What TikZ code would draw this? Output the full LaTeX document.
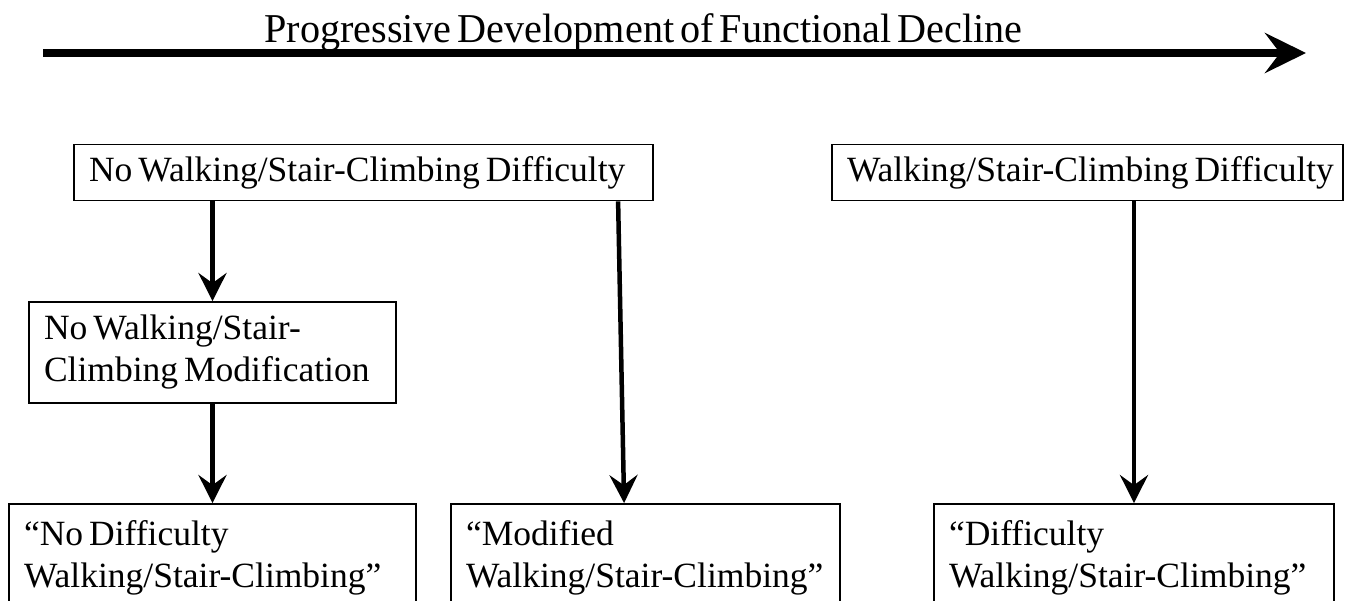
\documentclass[tikz,border=0pt]{standalone}
\usepackage{fontspec}
\setmainfont{Liberation Serif}
\newfontfamily\boxfont{Liberation Serif}
\newfontfamily\titlefont[FakeStretch=0.98,WordSpace=0.6]{Liberation Serif}
\newskip\boxwordskip
\boxwordskip=6pt plus 2pt minus 1pt
\usetikzlibrary{arrows.meta}
\begin{document}
\begin{tikzpicture}[x=1pt,y=-1pt,
  box/.style={draw,line width=1.8pt,inner xsep=15pt,inner ysep=0pt,align=left,
    font=\boxfont\fontsize{35.5}{42}\selectfont,
    execute at begin node={\spaceskip=\boxwordskip}},
  conn/.style={line width=4.5pt,-{Stealth[length=28pt,width=28pt,inset=10pt]}},
  bigarrow/.style={line width=8pt,-{Stealth[length=41pt,width=40pt,inset=15pt]}}
]
\useasboundingbox (0,0) rectangle (1345,601);
\clip (0,0) rectangle (1345,601);
\node[font=\titlefont\fontsize{41}{48}\selectfont,anchor=base,inner sep=0pt] (title) at (643.5,43) {Progressive Development of Functional Decline};
\coordinate (ls) at (43,53);
\coordinate (le) at (1306,53);
\draw[bigarrow] (ls) -- (le);

\node[box,minimum width=579pt,minimum height=56pt,text width=549pt] (A) at (363.5,172.5) {\mbox{No Walking/Stair-Climbing Difficulty}};
\node[box,minimum width=511pt,minimum height=56pt,text width=481pt] (B) at (1087.5,172.5) {\mbox{Walking/Stair-Climbing Difficulty}};
\node[box,minimum width=367pt,minimum height=101pt,text width=337pt] (C) at (212.5,352.5) {No Walking/Stair-\\Climbing Modification};
\node[box,minimum width=407pt,minimum height=108pt,text width=377pt] (D) at (212.5,558) {“No Difficulty\\Walking/Stair-Climbing”};
\node[box,minimum width=389pt,minimum height=108pt,text width=359pt] (E) at (645.5,558) {“Modified\\Walking/Stair-Climbing”};
\node[box,minimum width=400pt,minimum height=108pt,text width=370pt] (F) at (1134,558) {“Difficulty\\Walking/Stair-Climbing”};

\draw[conn] (A.south -| C.north) -- (C.north);
\draw[conn] (C.south) -- (D.north);
\draw[conn] ([xshift=545pt]A.south west) -- ([xshift=174pt]E.north west);
\draw[conn] (B.south -| F.north) -- (F.north);
\end{tikzpicture}
\end{document}
